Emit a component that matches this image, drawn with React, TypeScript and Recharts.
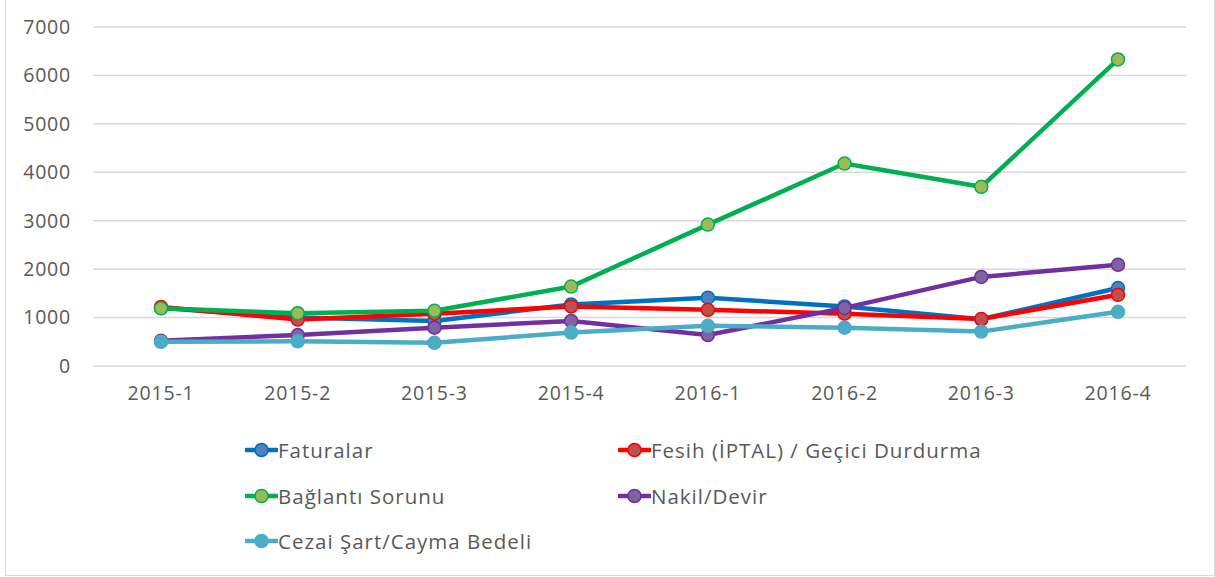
import React from 'react';
import { LineChart, Line, XAxis, YAxis, CartesianGrid, Legend } from 'recharts';

const categories = ['2015-1', '2015-2', '2015-3', '2015-4', '2016-1', '2016-2', '2016-3', '2016-4'];
const faturalar = [1200, 1000, 930, 1270, 1410, 1230, 965, 1610];
const fesih = [1220, 960, 1080, 1230, 1160, 1080, 970, 1470];
const baglanti = [1190, 1090, 1140, 1640, 2920, 4180, 3700, 6330];
const nakil = [520, 640, 790, 930, 640, 1200, 1840, 2090];
const cezai = [500, 510, 480, 690, 830, 790, 710, 1120];
const yTicks = [0, 1000, 2000, 3000, 4000, 5000, 6000, 7000];

const seriesDefs = [
  { key: 'faturalar', name: 'Faturalar', stroke: '#0070C0', fill: '#4F81BD', values: faturalar },
  { key: 'fesih', name: 'Fesih (İPTAL) / Geçici Durdurma', stroke: '#FF0000', fill: '#C0504D', values: fesih },
  { key: 'baglanti', name: 'Bağlantı Sorunu', stroke: '#00B050', fill: '#9BBB59', values: baglanti },
  { key: 'nakil', name: 'Nakil/Devir', stroke: '#7030A0', fill: '#8064A2', values: nakil },
  { key: 'cezai', name: 'Cezai Şart/Cayma Bedeli', stroke: '#4BACC6', fill: '#4BACC6', values: cezai },
];

const data = categories.map((c, i) => {
  const row: Record<string, string | number> = { cat: c };
  seriesDefs.forEach((s) => {
    row[s.key] = s.values[i];
  });
  return row;
});

const FONT = '"Open Sans", Lato, sans-serif';

const LegendContent = () => {
  const positions = [
    { left: 245, top: 438 },
    { left: 618, top: 438 },
    { left: 245, top: 484 },
    { left: 618, top: 484 },
    { left: 245, top: 529 },
  ];
  return (
    <div style={{ position: 'absolute', left: 0, top: 0, width: 1215, height: 577, pointerEvents: 'none' }}>
      {seriesDefs.map((s, i) => (
        <div
          key={s.key}
          style={{
            position: 'absolute',
            left: positions[i].left,
            top: positions[i].top,
            display: 'flex',
            alignItems: 'center',
            height: 24,
            fontFamily: FONT,
            fontSize: 20.5,
            letterSpacing: 1,
            color: '#595959',
            whiteSpace: 'nowrap',
          }}
        >
          <svg width={33} height={24} style={{ marginRight: 0 }}>
            <line x1={1} y1={12} x2={32} y2={12} stroke={s.stroke} strokeWidth={4.5} strokeLinecap="round" />
            <circle cx={16.5} cy={12} r={6.5} fill={s.fill} stroke={s.stroke} strokeWidth={1.5} />
          </svg>
          <span>{s.name}</span>
        </div>
      ))}
    </div>
  );
};

export default function App() {
  return (
    <div style={{ position: 'absolute', left: 0, top: 0, width: 1215, height: 577, background: '#fff' }}>
      <div
        style={{
          position: 'absolute',
          left: 5,
          top: 0,
          width: 1210,
          height: 576,
          borderLeft: '1.5px solid #d9d9d9',
          borderRight: '1.5px solid #d9d9d9',
          borderBottom: '1.5px solid #d9d9d9',
          boxSizing: 'border-box',
        }}
      />
      <LineChart
        width={1215}
        height={577}
        data={data}
        margin={{ top: 27, right: 29, left: 0, bottom: 171 }}
        style={{ position: 'absolute', left: 0, top: 0 }}
      >
        <CartesianGrid vertical={false} stroke="#d9d9d9" strokeWidth={1.5} />
        <XAxis
          dataKey="cat"
          axisLine={false}
          tickLine={false}
          tickSize={0}
          tickMargin={20}
          height={40}
          interval={0}
          padding={{ left: 68, right: 68 }}
          tick={{ fill: '#595959', fontSize: 19.5, fontFamily: FONT, letterSpacing: 0.8 }}
        />
        <YAxis
          domain={[0, 7000]}
          ticks={yTicks}
          axisLine={false}
          tickLine={false}
          tickSize={0}
          tickMargin={22}
          width={93}
          tick={{ fill: '#595959', fontSize: 19.5, fontFamily: FONT, letterSpacing: 0.8 }}
        />
        <Legend content={() => null} />
        {seriesDefs.map((s) => (
          <Line
            key={s.key}
            type="linear"
            dataKey={s.key}
            name={s.name}
            stroke={s.stroke}
            strokeWidth={4.5}
            isAnimationActive={false}
            dot={{ r: 6.5, fill: s.fill, stroke: s.stroke, strokeWidth: 1.5 }}
            activeDot={false}
          />
        ))}
      </LineChart>
      <LegendContent />
    </div>
  );
}
